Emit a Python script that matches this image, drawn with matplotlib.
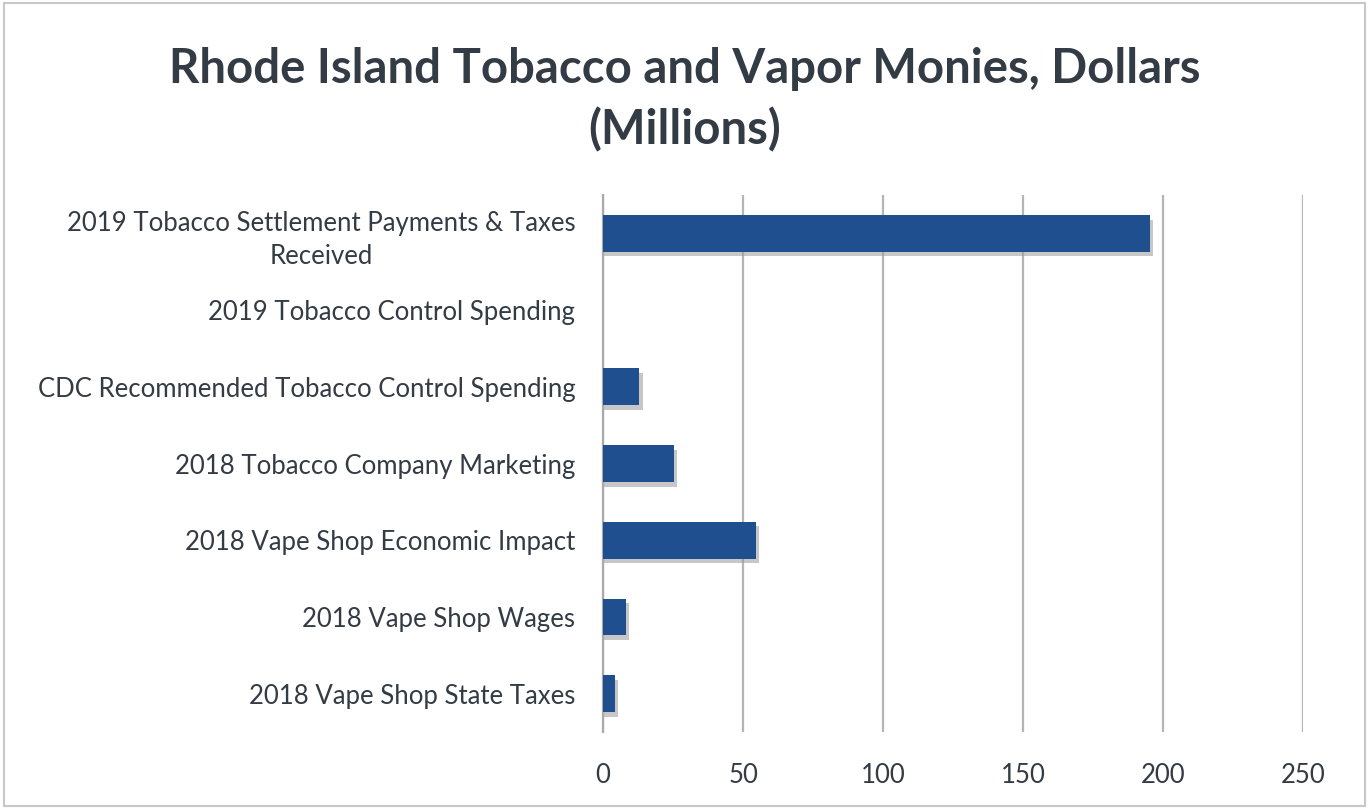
import matplotlib
matplotlib.use("Agg")
import matplotlib.pyplot as plt
import numpy as np

categories = [
    "2019 Tobacco Settlement Payments & Taxes\nReceived",
    "2019 Tobacco Control Spending",
    "CDC Recommended Tobacco Control Spending",
    "2018 Tobacco Company Marketing",
    "2018 Vape Shop Economic Impact",
    "2018 Vape Shop Wages",
    "2018 Vape Shop State Taxes",
]
values = [195.2, 0.0, 13.0, 25.2, 54.6, 8.3, 4.2]
xticks = [0, 50, 100, 150, 200, 250]

plt.rcParams['font.family'] = ['Lato', 'DejaVu Sans']
text_color = '#333b44'
bar_color = '#1f4f8f'

fig = plt.figure(figsize=(13.69, 8.09), dpi=100)
ax = fig.add_axes([0.4405, 0.095, 0.5115, 0.664])

y = np.arange(len(categories))
vals = np.array(values)
# soft drop shadow under each bar (skip empty bars)
shadow = np.where(vals > 0, vals + 0.8, 0)
ax.barh(y + 0.06, shadow, height=0.48, color='#9a9a9a', alpha=0.55,
        left=0.3, zorder=2, linewidth=0)
ax.barh(y, vals, height=0.48, color=bar_color, zorder=3, linewidth=0)

ax.set_xlim(0, 250)
ax.set_ylim(len(categories) - 0.5, -0.5)
ax.set_xticks(xticks)
ax.set_xticklabels([str(t) for t in xticks])
ax.set_yticks(y)
ax.set_yticklabels(categories, multialignment='center', linespacing=1.4)
ax.tick_params(axis='both', length=0, labelsize=18.5, colors=text_color)
ax.tick_params(axis='y', pad=20)
ax.tick_params(axis='x', pad=22)

ax.grid(axis='x', color='#b5b5b5', linewidth=1.6, zorder=0)
for s in ['top', 'right', 'bottom']:
    ax.spines[s].set_visible(False)
ax.spines['left'].set_color('#aaaaaa')
ax.spines['left'].set_linewidth(1.6)

fig.text(0.5, 0.877, "Rhode Island Tobacco and Vapor Monies, Dollars\n(Millions)",
         ha='center', va='center', fontsize=34, fontweight='bold',
         color=text_color, linespacing=1.42)

# scanned page border
fig.patches.append(plt.Rectangle((0.003, 0.004), 0.994, 0.992, transform=fig.transFigure,
                                 fill=False, edgecolor='#c8c8c8', linewidth=1.5))

fig.savefig('out.png', dpi=100)
